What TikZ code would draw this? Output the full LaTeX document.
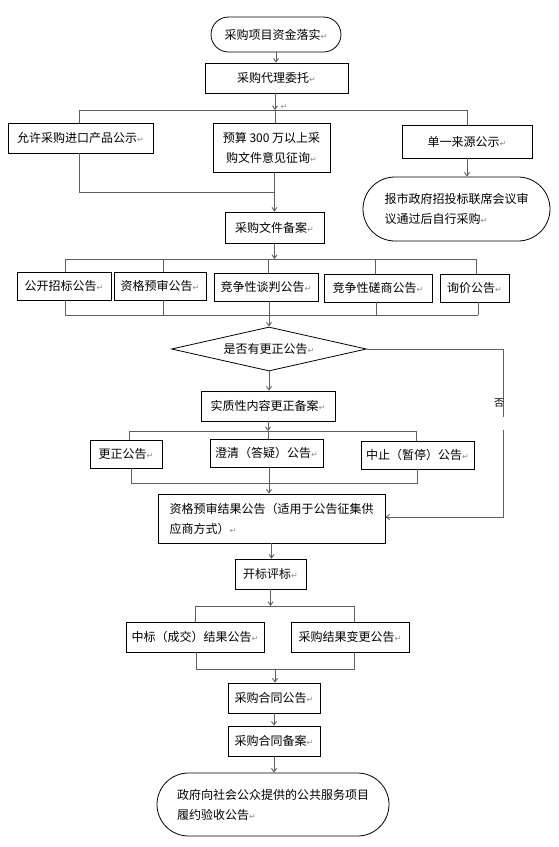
\documentclass[tikz,border=0pt]{standalone}
\usepackage{fontspec}
\setmainfont{Noto Sans CJK SC}
\newfontfamily\djv{DejaVu Sans}
\usetikzlibrary{shapes.geometric,shapes.misc,arrows.meta}
\newcommand\parmk{{\djv\color{black!45}\fontsize{8}{8}\selectfont ↵}}
\begin{document}
\begin{tikzpicture}[x=1pt,y=-1pt,
  every node/.style={font=\fontsize{12}{20}\selectfont, text=black},
  box/.style={draw=black, line width=0.8pt, rectangle, inner sep=0pt},
  stad/.style={draw=black, line width=0.8pt, rounded rectangle, inner sep=0pt},
  dia/.style={draw=black, line width=0.8pt, diamond, shape aspect=4.4, inner sep=0pt},
  ln/.style={draw={rgb,255:red,95;green,95;blue,95}, line width=0.9pt},
  arr/.style={ln, -{Straight Barb[length=3.5pt,width=5pt]}},
  lbl/.style={inner sep=0pt, font=\fontsize{10}{10}\selectfont}]
\fill[white] (0,0) rectangle (559,847);
\useasboundingbox (0,0) rectangle (559,847);

% nodes
\node[stad, minimum width=130pt, minimum height=35pt] (n1) at (276,34.5) {采购项目资金落实\parmk};
\node[box, minimum width=143pt, minimum height=30pt] (n2) at (276.5,78) {采购代理委托\parmk};
\node[box, minimum width=145pt, minimum height=30pt] (n3) at (80.5,138) {允许采购进口产品公示\parmk};
\node[box, minimum width=117pt, minimum height=49pt, align=center] (n4) at (271.5,147.5) {预算 300 万以上采\\购文件意见征询\parmk};
\node[box, minimum width=130pt, minimum height=33pt] (n5) at (467,141.5) {单一来源公示\parmk};
\node[stad, minimum width=187pt, minimum height=64pt, align=left] (n6) at (456.5,209) {报市政府招投标联席会议审\\议通过后自行采购\parmk};
\node[box, minimum width=99pt, minimum height=31pt] (n7) at (274.5,227.5) {采购文件备案\parmk};

\node[box, minimum width=94pt, minimum height=28pt] (r1) at (64,286) {公开招标公告\parmk};
\node[box, minimum width=92pt, minimum height=28pt] (r2) at (160,286) {资格预审公告\parmk};
\node[box, minimum width=104pt, minimum height=28pt] (r3) at (266,287) {竞争性谈判公告\parmk};
\node[box, minimum width=108pt, minimum height=28pt] (r4) at (378,288) {竞争性磋商公告\parmk};
\node[box, minimum width=69pt, minimum height=28pt] (r5) at (474.5,288) {询价公告\parmk};

\node[dia, minimum width=195pt, minimum height=44pt] (d) at (269,349) {是否有更正公告\parmk};
\node[box, minimum width=134pt, minimum height=30pt] (m) at (268,406) {实质性内容更正备案\parmk};
\node[box, minimum width=72pt, minimum height=28pt] (c1) at (126,454) {更正公告\parmk};
\node[box, minimum width=113pt, minimum height=28pt] (c2) at (266.5,453) {澄清（答疑）公告\parmk};
\node[box, minimum width=113pt, minimum height=28pt] (c3) at (417.5,455) {中止（暂停）公告\parmk};
\node[box, minimum width=227pt, minimum height=49pt, align=left] (q) at (271.5,518.5) {资格预审结果公告（适用于公告征集供\\应商方式）\parmk};
\node[box, minimum width=71pt, minimum height=30pt] (k) at (270.5,574) {开标评标\parmk};
\node[box, minimum width=138pt, minimum height=30pt] (z1) at (195,637) {中标（成交）结果公告\parmk};
\node[box, minimum width=118pt, minimum height=30pt] (z2) at (350,637) {采购结果变更公告\parmk};
\node[box, minimum width=92pt, minimum height=30pt] (h1) at (274,698) {采购合同公告\parmk};
\node[box, minimum width=92pt, minimum height=30pt] (h2) at (274,741) {采购合同备案\parmk};
\node[stad, minimum width=232pt, minimum height=63pt, align=left] (f) at (273,804.5) {政府向社会公众提供的公共服务项目\\履约验收公告\parmk};

% coordinates
\coordinate (ja) at (275,110);
\coordinate (jl) at (79,110);
\coordinate (jr) at (467,110);
\coordinate (jb) at (274.5,192);
\coordinate (t1) at (65,259);
\coordinate (t2) at (163,259);
\coordinate (t3) at (268,259);
\coordinate (t4) at (375,259);
\coordinate (t5) at (476,259);
\coordinate (tc) at (274.5,259);
\coordinate (b1) at (65,315);
\coordinate (b2) at (163,315);
\coordinate (b3) at (269,315);
\coordinate (b4) at (376,315);
\coordinate (b5) at (478,315);
\coordinate (mc) at (268,431);
\coordinate (ml) at (129,431);
\coordinate (mr) at (416,431);
\coordinate (cb1) at (131,483);
\coordinate (cb2) at (269,483);
\coordinate (cb3) at (417,483);
\coordinate (ra) at (503,349);
\coordinate (rg1) at (503,417);
\coordinate (rg2) at (503,430);
\coordinate (rb) at (503,517);
\coordinate (kc) at (271,606);
\coordinate (zl) at (195,606);
\coordinate (zr) at (354,606);
\coordinate (zb1) at (196,669);
\coordinate (zb2) at (354,669);
\coordinate (zc) at (275,669);

% connectors
\draw[arr] (n1.south) -- (n1.south |- n2.north);
\draw[arr] (n2.south -| ja) -- (ja);
\node[inner sep=0pt] (pj) at (284,107) {\parmk};
\draw[ln] (jl) -- (jr);
\draw[ln] (jl) -- (jl |- n3.north);
\draw[ln] (ja) -- (ja |- n4.north);
\draw[ln] (jr) -- (n5.north);
\draw[arr] (n5.south) -- (n5.south |- n6.north);
\draw[ln] (n3.south -| jl) |- (jb);
\draw[arr] (n4.south -| n7.north) -- (n7.north);

\draw[arr] (n7.south) -- (tc);
\draw[ln] (t1) -- (t5);
\draw[ln] (t1) -- (t1 |- r1.north);
\draw[ln] (t2) -- (t2 |- r2.north);
\draw[ln] (t3) -- (t3 |- r3.north);
\draw[ln] (t4) -- (t4 |- r4.north);
\draw[ln] (t5) -- (t5 |- r5.north);
\draw[ln] (r1.south -| b1) -- (b1);
\draw[ln] (r2.south -| b2) -- (b2);
\draw[ln] (r3.south -| b3) -- (b3);
\draw[ln] (r4.south -| b4) -- (b4);
\draw[ln] (r5.south -| b5) -- (b5);
\draw[ln] (b1) -- (b5);
\draw[arr] (b3) -- (b3 |- d.north);

\draw[arr] (d.south) -- (d.south |- m.north);
\draw[arr] (m.south) -- (mc);
\draw[ln] (ml) -- (mr);
\draw[ln] (ml) -- (ml |- c1.north);
\draw[ln] (mc) -- (mc |- c2.north);
\draw[ln] (mr) -- (mr |- c3.north);
\draw[ln] (c1.south -| cb1) -- (cb1) -- (cb3) -- (c3.south -| cb3);
\draw[ln] (c2.south -| cb2) -- (cb2);
\draw[arr] (cb2) -- (cb2 |- q.north);

\draw[ln] (d.east) -- (ra) -- (rg1);
\draw[arr] (rg2) -- (rb) -- (rb -| q.east);
\node[lbl] (no) at (499,403) {否};

\draw[arr] (q.south) -- (q.south |- k.north);
\draw[arr] (k.south) -- (k.south |- kc);
\draw[ln] (zl) -- (zr);
\draw[ln] (zl) -- (zl |- z1.north);
\draw[ln] (zr) -- (zr |- z2.north);
\draw[ln] (z1.south -| zb1) -- (zb1) -- (zb2) -- (z2.south -| zb2);
\draw[arr] (zc) -- (zc |- h1.north);
\draw[arr] (h1.south) -- (h1.south |- h2.north);
\draw[arr] (h2.south) -- (h2.south |- f.north);
\end{tikzpicture}
\end{document}
